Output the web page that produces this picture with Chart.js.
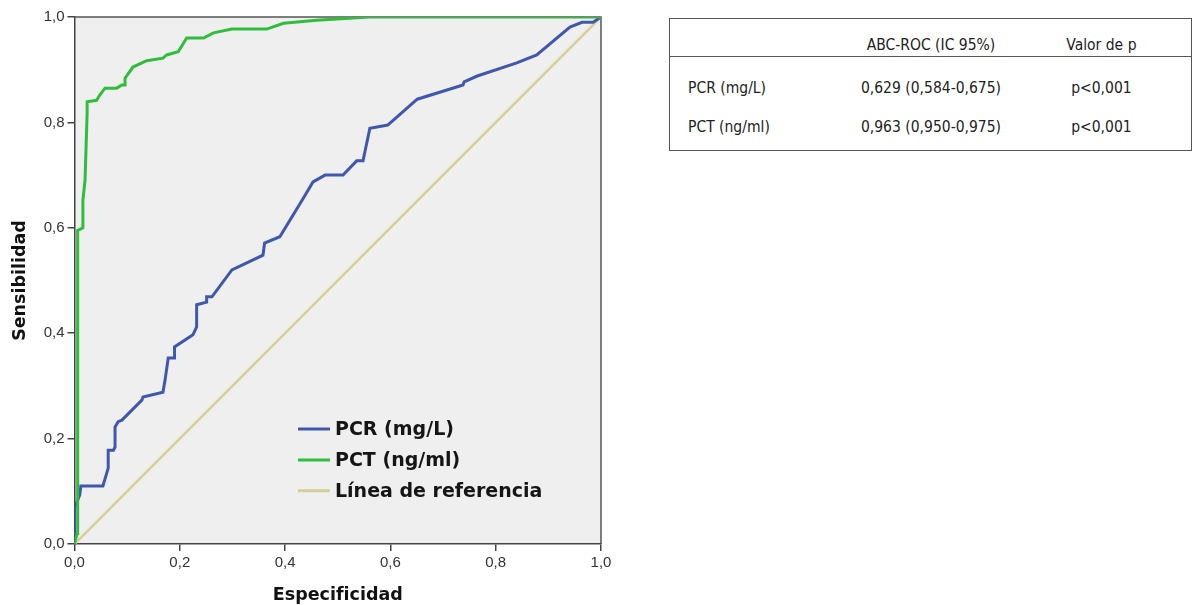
<!DOCTYPE html>
<html lang="es">
<head>
<meta charset="utf-8">
<title>Curvas ROC PCR / PCT</title>
<script src="https://cdn.jsdelivr.net/npm/chart.js@4.4.0/dist/chart.umd.min.js"></script>
<style>
  body { margin: 0; background: #fff; width: 1194px; height: 605px; overflow: hidden; position: relative; }
  #wrap { position: absolute; left: 0; top: 0; width: 620px; height: 605px; }
  #tabla {
    position: absolute; left: 669px; top: 18px; width: 523px;
    border-collapse: collapse; border: 1px solid #555;
    font-family: "DejaVu Sans", sans-serif; font-stretch: condensed;
    font-size: 15.5px; color: #222;
  }
  #tabla th { font-weight: normal; height: 34px; padding-bottom: 2px; vertical-align: bottom; border-bottom: 1px solid #555; text-align: center; }
  #tabla td { text-align: center; }
  #tabla td:first-child { text-align: left; padding-left: 18px; }
  #tabla tr.r1 td { height: 37px; padding-top: 12px; }
  #tabla tr.r2 td { height: 37px; padding-bottom: 5px; }
</style>
</head>
<body>
<div id="wrap"><canvas id="roc"></canvas></div>

<table id="tabla">
  <colgroup><col style="width:181px"><col style="width:162px"><col style="width:180px"></colgroup>
  <tr><th></th><th>ABC-ROC (IC 95%)</th><th>Valor de p</th></tr>
  <tr class="r1"><td>PCR (mg/L)</td><td>0,629 (0,584-0,675)</td><td>p&lt;0,001</td></tr>
  <tr class="r2"><td>PCT (ng/ml)</td><td>0,963 (0,950-0,975)</td><td>p&lt;0,001</td></tr>
</table>

<script>
// ---------- Dades llegides de la figura ----------
const axisTicks = [0, 0.2, 0.4, 0.6, 0.8, 1.0];
const seriesNames = ['PCR (mg/L)', 'PCT (ng/ml)', 'Línea de referencia'];
const seriesColors = ['#3f58ae', '#2fbd3c', '#d5cf96'];

const pcrX = [0, 0, 0.01, 0.012, 0.054, 0.064, 0.064, 0.074, 0.077, 0.077, 0.083, 0.09, 0.128, 0.13, 0.168,
  0.172, 0.178, 0.19, 0.19, 0.225, 0.232, 0.232, 0.251, 0.251, 0.261, 0.299, 0.358, 0.361, 0.39, 0.434,
  0.453, 0.476, 0.51, 0.536, 0.548, 0.561, 0.595, 0.651, 0.738, 0.74, 0.765, 0.84, 0.878, 0.941, 0.964, 0.985, 1];
const pcrY = [0, 0.068, 0.093, 0.11, 0.11, 0.144, 0.178, 0.178, 0.184, 0.222, 0.232, 0.235, 0.273, 0.279, 0.288,
  0.311, 0.353, 0.353, 0.374, 0.397, 0.412, 0.454, 0.459, 0.469, 0.469, 0.52, 0.548, 0.571, 0.583, 0.655,
  0.687, 0.70, 0.70, 0.727, 0.727, 0.789, 0.795, 0.844, 0.871, 0.877, 0.888, 0.913, 0.928, 0.981, 0.99, 0.99, 1];

const pctX = [0, 0.005, 0.006, 0.016, 0.016, 0.02, 0.024, 0.024, 0.042, 0.048, 0.058, 0.08, 0.09, 0.096, 0.096,
  0.111, 0.137, 0.168, 0.175, 0.197, 0.213, 0.245, 0.264, 0.299, 0.365, 0.397, 0.46, 0.56, 1];
const pctY = [0, 0.02, 0.595, 0.6, 0.653, 0.69, 0.818, 0.839, 0.842, 0.852, 0.865, 0.865, 0.871, 0.871, 0.884,
  0.905, 0.917, 0.922, 0.928, 0.934, 0.96, 0.96, 0.97, 0.977, 0.977, 0.988, 0.994, 1, 1];

const refX = [0, 1];
const refY = [0, 1];

const toPoints = (xs, ys) => xs.map((x, i) => ({ x: x, y: ys[i] }));
const coma = v => Number(v).toFixed(1).replace('.', ',');

// ---------- Fons gris i marc de l'àrea ----------
const plotFrame = {
  id: 'plotFrame',
  beforeDraw(chart) {
    const { ctx, chartArea: a } = chart;
    ctx.save();
    ctx.fillStyle = '#efefef';
    ctx.fillRect(a.left, a.top, a.width, a.height);
    ctx.restore();
  },
  beforeDatasetsDraw(chart) {
    const { ctx, chartArea: a } = chart;
    ctx.save();
    ctx.strokeStyle = '#555';
    ctx.lineWidth = 1.5;
    ctx.beginPath();
    ctx.moveTo(a.left, a.top);
    ctx.lineTo(a.right, a.top);
    ctx.lineTo(a.right, a.bottom);
    ctx.stroke();
    ctx.restore();
  }
};

// ---------- Llegenda dins del gràfic ----------
const innerLegend = {
  id: 'innerLegend',
  afterDatasetsDraw(chart) {
    const { ctx, chartArea: a } = chart;
    const x0 = a.left + a.width * 0.4245;
    const y0 = a.top + a.height * 0.782;
    ctx.save();
    ctx.font = 'bold 19px "DejaVu Sans", sans-serif';
    ctx.textBaseline = 'middle';
    seriesNames.forEach((name, i) => {
      const y = y0 + i * 30.8;
      ctx.strokeStyle = seriesColors[i];
      ctx.lineWidth = 3;
      ctx.beginPath();
      ctx.moveTo(x0, y);
      ctx.lineTo(x0 + 32, y);
      ctx.stroke();
      ctx.fillStyle = '#151515';
      ctx.fillText(name, x0 + 37, y + 1);
    });
    ctx.restore();
  }
};

const axisFont = { family: '"Liberation Sans", Arial, sans-serif', size: 15 };
const titleFont = { family: '"DejaVu Sans", sans-serif', size: 17.5, weight: 'bold' };

new Chart(document.getElementById('roc'), {
  type: 'line',
  data: {
    datasets: [
      { label: seriesNames[1], data: toPoints(pctX, pctY), borderColor: seriesColors[1], borderWidth: 3, order: 0 },
      { label: seriesNames[0], data: toPoints(pcrX, pcrY), borderColor: seriesColors[0], borderWidth: 3, order: 1 },
      { label: seriesNames[2], data: toPoints(refX, refY), borderColor: seriesColors[2], borderWidth: 2.5, order: 2 }
    ]
  },
  options: {
    responsive: true,
    maintainAspectRatio: false,
    animation: false,
    elements: { point: { radius: 0 }, line: { tension: 0, fill: false, clip: 3 } },
    layout: { padding: { top: 17, right: 19, left: 0, bottom: 0 } },
    plugins: { legend: { display: false }, tooltip: { enabled: false } },
    scales: {
      x: {
        type: 'linear', min: 0, max: 1,
        afterBuildTicks: s => { s.ticks = axisTicks.map(v => ({ value: v })); },
        afterFit: s => { s.height = 61; },
        grid: { drawOnChartArea: false, drawTicks: true, tickLength: 7, color: '#444', lineWidth: 1.5 },
        border: { color: '#444', width: 1.5 },
        ticks: { font: axisFont, color: '#333', padding: 3, maxRotation: 0, callback: v => coma(v) },
        title: { display: true, text: 'Especificidad', font: titleFont, color: '#111', padding: { top: 0, bottom: -1 } }
      },
      y: {
        type: 'linear', min: 0, max: 1,
        afterBuildTicks: s => { s.ticks = axisTicks.map(v => ({ value: v })); },
        afterFit: s => { s.width = 74.5; },
        grid: { drawOnChartArea: false, drawTicks: true, tickLength: 7, color: '#444', lineWidth: 1.5 },
        border: { color: '#444', width: 1.5 },
        ticks: { font: axisFont, color: '#333', padding: 3, callback: v => coma(v) },
        title: { display: true, text: 'Sensibilidad', font: titleFont, color: '#111', padding: { top: 10, bottom: 0 } }
      }
    }
  },
  plugins: [plotFrame, innerLegend]
});
</script>
</body>
</html>
